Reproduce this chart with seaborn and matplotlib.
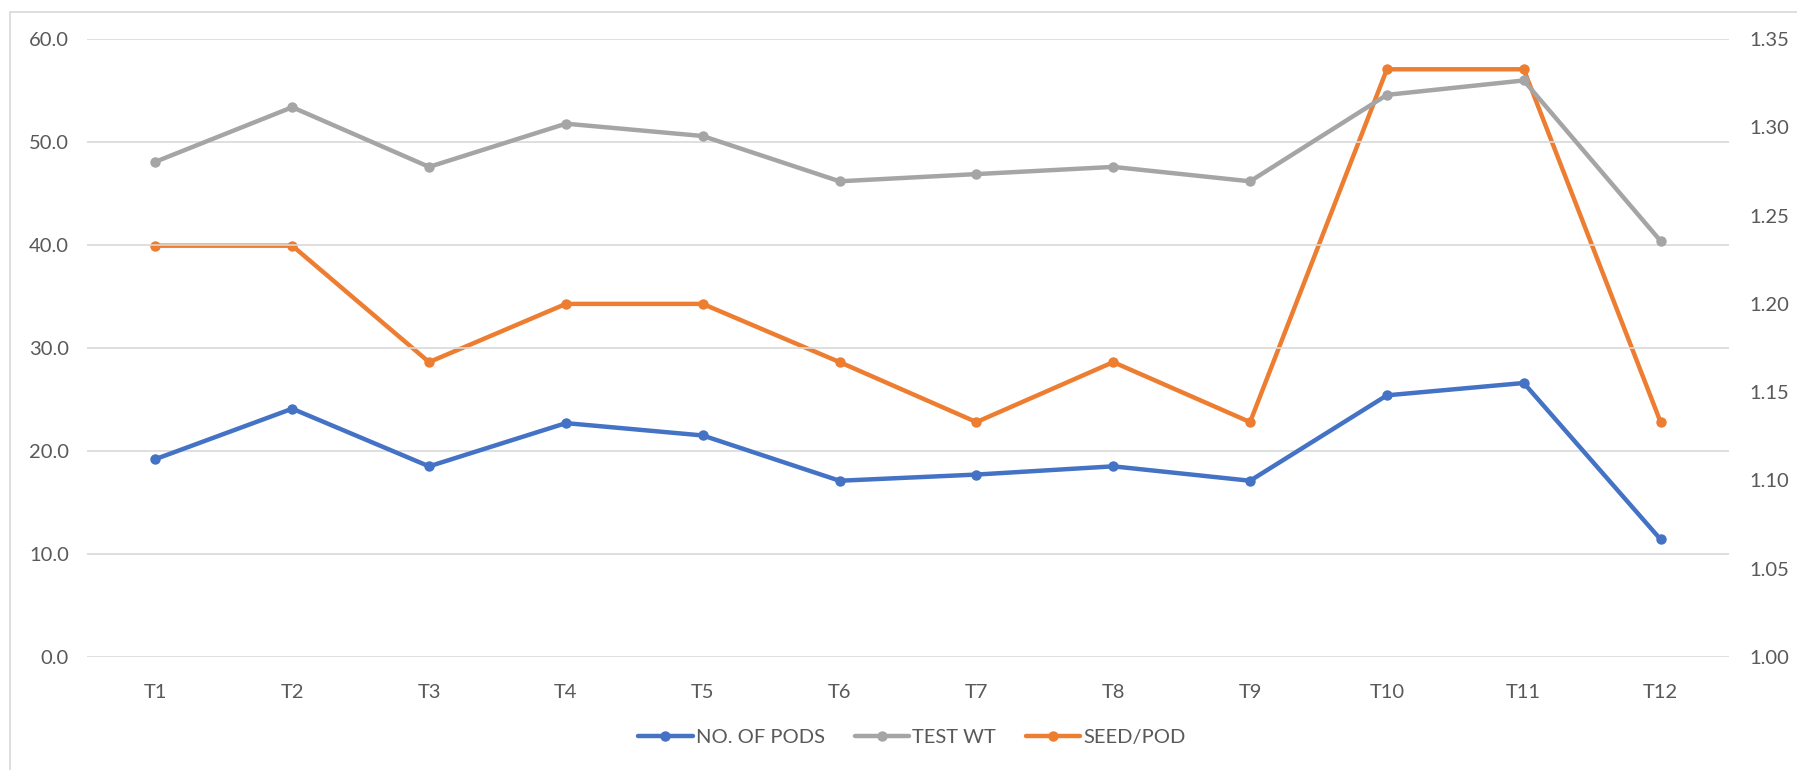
import matplotlib
matplotlib.use("Agg")
import matplotlib.pyplot as plt
from matplotlib.lines import Line2D
from matplotlib.patches import Rectangle
import seaborn as sns
import pandas as pd

# Treatments
treatments = ["T1", "T2", "T3", "T4", "T5", "T6", "T7", "T8", "T9", "T10", "T11", "T12"]

# Primary axis series
no_of_pods = [19.2, 24.1, 18.5, 22.7, 21.5, 17.1, 17.7, 18.5, 17.1, 25.4, 26.6, 11.4]
test_wt = [48.1, 53.4, 47.6, 51.8, 50.6, 46.2, 46.9, 47.6, 46.2, 54.6, 56.0, 40.4]

# Secondary axis series
seed_per_pod = [1.233, 1.233, 1.167, 1.200, 1.200, 1.167, 1.133, 1.167, 1.133, 1.333, 1.333, 1.133]

left_ticks = [0, 10, 20, 30, 40, 50, 60]
right_ticks = [1.00, 1.05, 1.10, 1.15, 1.20, 1.25, 1.30, 1.35]

BLUE = "#4472C4"
GREY = "#A5A5A5"
ORANGE = "#ED7D31"
TEXT = "#595959"
GRID = "#D9D9D9"

sns.set_theme(style="white")
plt.rcParams["font.family"] = ["Lato", "DejaVu Sans"]

df = pd.DataFrame({
    "treatment": treatments,
    "pods": no_of_pods,
    "test_wt": test_wt,
    "seed_pod": seed_per_pod,
})

fig = plt.figure(figsize=(17.97, 7.70), dpi=100)
fig.patch.set_facecolor("white")

# chart-area frame
fig.add_artist(Rectangle((10 / 1797, -0.05), 1.2, 1 - 12 / 770 + 0.05,
                         transform=fig.transFigure, fill=False,
                         edgecolor="#D9D9D9", linewidth=1.2))

ax = fig.add_axes([87 / 1797, 1 - 656.7 / 770, (1729 - 87) / 1797, (656.7 - 39.3) / 770])
ax2 = ax.twinx()

line_kw = dict(linewidth=3.2, marker="o", markersize=7.5, markeredgewidth=0)

sns.lineplot(data=df, x="treatment", y="pods", ax=ax, color=BLUE, **line_kw)
sns.lineplot(data=df, x="treatment", y="test_wt", ax=ax, color=GREY, **line_kw)
sns.lineplot(data=df, x="treatment", y="seed_pod", ax=ax2, color=ORANGE, **line_kw)

ax.set_xlim(-0.5, len(treatments) - 0.5)
ax.set_ylim(0, 60)
ax2.set_ylim(1.00, 1.35)

ax.set_yticks(left_ticks)
ax.set_yticklabels([f"{v:.1f}" for v in left_ticks])
ax2.set_yticks(right_ticks)
ax2.set_yticklabels([f"{v:.2f}" for v in right_ticks])

ax.set_xticks(range(len(treatments)))
ax.set_xticklabels(treatments)

for a in (ax, ax2):
    a.set_xlabel("")
    a.set_ylabel("")
    for s in a.spines.values():
        s.set_visible(False)
    a.tick_params(length=0, labelsize=14.5, colors=TEXT)

ax.tick_params(axis="y", pad=13)
ax2.tick_params(axis="y", pad=15)
ax.tick_params(axis="x", pad=20)

ax.yaxis.grid(True, color=GRID, linewidth=1.2)
ax.set_axisbelow(True)
ax.set_zorder(ax2.get_zorder() + 1)
ax.patch.set_visible(False)

handles = [
    Line2D([], [], color=BLUE, linewidth=3.2, marker="o", markersize=7.5, markeredgewidth=0),
    Line2D([], [], color=GREY, linewidth=3.2, marker="o", markersize=7.5, markeredgewidth=0),
    Line2D([], [], color=ORANGE, linewidth=3.2, marker="o", markersize=7.5, markeredgewidth=0),
]
fig.legend(handles, ["NO. OF PODS", "TEST WT", "SEED/POD"],
           loc="center", bbox_to_anchor=(912 / 1797, 1 - 737 / 770), ncol=3,
           frameon=False, fontsize=14.5, labelcolor=TEXT,
           handlelength=2.7, handletextpad=0.15, columnspacing=1.5)

fig.savefig("out.png", dpi=100, facecolor="white")
